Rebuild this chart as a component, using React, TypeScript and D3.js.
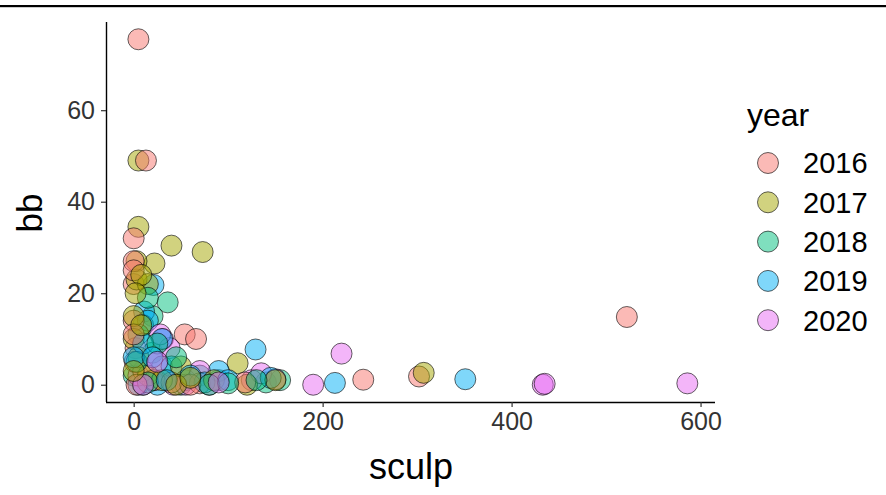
import React, {useEffect, useRef} from "react";
import * as d3 from "d3";

// year groups and their hue colours (ggplot default)
const years = ["2016", "2017", "2018", "2019", "2020"];
const colors = ["#F8766D", "#A3A500", "#00BF7D", "#00B0F6", "#E76BF3"];

// [sculp, bb] pairs per year
const pts2016 = [
  [5, 75.5], [13, 49], [0, 32], [0, 22], [0, 14], [2, 8], [54, 11], [66, 10],
  [522, 14.8], [243, 1.1], [302, 1.8], [1, 5], [10, 3], [22, 1], [40, 0.5],
  [70, 0.3], [3, 0], [60, 0], [118, 0.5], [0, 27], [0, 11], [0, 25],
];
const pts2017 = [
  [5, 49], [5, 34.5], [40, 30.4], [73, 29], [22, 26.5], [3, 27], [3, 23],
  [15, 22], [0, 15], [110, 4.7], [307, 2.6], [0, 10], [5, 6], [15, 2], [30, 1],
  [50, 4], [85, 1], [120, 0], [150, 1], [0, 3], [45, 0], [8, 13], [60, 1.5],
  [8, 24], [2, 20],
];
const pts2018 = [
  [36, 18], [20, 15], [10, 13], [5, 11], [20, 7], [0, 2], [10, 0], [30, 4],
  [50, 0], [70, 2], [90, 1], [140, 0.5], [155, 1], [3, 5], [25, 9], [15, 0.5],
  [45, 6], [80, 0], [100, 0.3], [130, 1], [15, 19],
];
const pts2019 = [
  [21, 21.8], [11, 16], [15, 14], [129, 7.7], [213, 0.4], [351, 1.2], [5, 0],
  [25, 0], [40, 4], [55, 1], [90, 3], [30, 10], [10, 9], [0, 6], [20, 6],
  [75, 0.5], [100, 1], [145, 1.5], [60, 2], [35, 1],
];
const pts2020 = [
  [220, 6.8], [433, 0], [435, 0.2], [586, 0.3], [190, 0], [31, 10], [38, 8],
  [28, 11], [5, 2], [20, 1], [42, 0], [70, 3], [55, 0], [80, 0], [125, 1],
  [135, 2.5], [150, 1.2], [10, 0], [90, 0.5], [25, 5],
];
const groups = [pts2016, pts2017, pts2018, pts2019, pts2020];

const xTicks = [0, 200, 400, 600];
const yTicks = [0, 20, 40, 60];

function drawChart(el: SVGSVGElement) {
  const svg = d3.select(el);
  svg.selectAll("*").remove();

  const left = 106, right = 715, top = 22, bottom = 402;
  const font = "'Liberation Sans', Arial, sans-serif";

  // rows in interleaved order, like a data frame not sorted by year
  const rows: {x: number; y: number; g: number}[] = [];
  const maxLen = d3.max(groups, (g) => g.length) || 0;
  for (let i = 0; i < maxLen; i++) {
    groups.forEach((g, gi) => {
      if (i < g.length) rows.push({x: g[i][0], y: g[i][1], g: gi});
    });
  }

  const xExt = d3.extent(rows, (d) => d.x) as [number, number];
  const yExt = d3.extent(rows, (d) => d.y) as [number, number];
  const xPad = (xExt[1] - xExt[0]) * 0.05;
  const yPad = (yExt[1] - yExt[0]) * 0.05;

  const x = d3.scaleLinear().domain([xExt[0] - xPad, xExt[1] + xPad]).range([left, right]);
  const y = d3.scaleLinear().domain([yExt[0] - yPad, yExt[1] + yPad]).range([bottom, top]);

  // top rule
  svg.append("line").attr("x1", 0).attr("x2", 886).attr("y1", 6).attr("y2", 6)
    .attr("stroke", "#000").attr("stroke-width", 2);
  svg.append("line").attr("x1", 0).attr("x2", 886).attr("y1", 7.5).attr("y2", 7.5)
    .attr("stroke", "#ccc").attr("stroke-width", 1);

  // points
  svg.append("g")
    .selectAll("circle")
    .data(rows)
    .enter()
    .append("circle")
    .attr("cx", (d) => x(d.x))
    .attr("cy", (d) => y(d.y))
    .attr("r", 10.5)
    .attr("fill", (d) => colors[d.g])
    .attr("fill-opacity", 0.5)
    .attr("stroke", "#000")
    .attr("stroke-opacity", 0.6)
    .attr("stroke-width", 1);

  // axes
  const xAxis = svg.append("g")
    .attr("transform", `translate(0,${bottom})`)
    .call(d3.axisBottom(x).tickValues(xTicks).tickSize(5).tickPadding(5).tickSizeOuter(0));
  const yAxis = svg.append("g")
    .attr("transform", `translate(${left},0)`)
    .call(d3.axisLeft(y).tickValues(yTicks).tickSize(5).tickPadding(6).tickSizeOuter(0));

  [xAxis, yAxis].forEach((a) => {
    a.select(".domain").attr("stroke", "#000").attr("stroke-width", 1.4);
    a.selectAll(".tick line").attr("stroke", "#333").attr("stroke-width", 1.2);
    a.selectAll(".tick text")
      .attr("fill", "#333")
      .style("font-family", font)
      .style("font-size", "25px");
  });
  // extend the domains so the axes meet at the corner
  xAxis.select(".domain").attr("d", `M${left},0.5H${right}`);
  yAxis.select(".domain").attr("d", `M0.5,${top}V${bottom}`);

  // axis titles
  svg.append("text")
    .attr("x", 411)
    .attr("y", 479)
    .attr("text-anchor", "middle")
    .style("font-family", font)
    .style("font-size", "36px")
    .text("sculp");
  svg.append("text")
    .attr("transform", `translate(42,213) rotate(-90)`)
    .attr("text-anchor", "middle")
    .style("font-family", font)
    .style("font-size", "35px")
    .text("bb");

  // legend
  svg.append("text")
    .attr("x", 747)
    .attr("y", 126)
    .style("font-family", font)
    .style("font-size", "32px")
    .text("year");

  const legend = svg.append("g")
    .selectAll("g")
    .data(years)
    .enter()
    .append("g")
    .attr("transform", (d, i) => `translate(768,${163 + i * 39.3})`);
  legend.append("circle")
    .attr("r", 10.5)
    .attr("fill", (d, i) => colors[i])
    .attr("fill-opacity", 0.5)
    .attr("stroke", "#000")
    .attr("stroke-opacity", 0.6);
  legend.append("text")
    .attr("x", 35)
    .attr("dy", "0.36em")
    .style("font-family", font)
    .style("font-size", "29px")
    .text((d) => d);
}

export default function App() {
  const ref = useRef<SVGSVGElement>(null);
  useEffect(() => {
    if (ref.current) drawChart(ref.current);
  }, []);
  return (
    <svg
      ref={ref}
      width={886}
      height={495}
      style={{position: "absolute", left: 0, top: 0, background: "#fff"}}
    />
  );
}
